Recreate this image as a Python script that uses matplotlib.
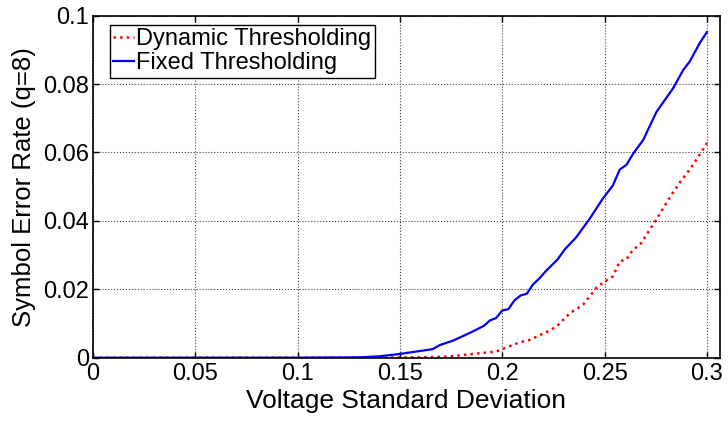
import matplotlib
matplotlib.use('Agg')
import matplotlib.pyplot as plt
from matplotlib.ticker import FuncFormatter

plt.rcParams['font.family'] = ['Liberation Sans', 'DejaVu Sans']

# values
fixed_x = [0, 0.10, 0.13, 0.140, 0.150, 0.166, 0.1695, 0.176, 0.184, 0.191, 0.194, 0.197,
           0.200, 0.203, 0.206, 0.209, 0.212, 0.215, 0.218, 0.2216, 0.227, 0.2306,
           0.236, 0.2428, 0.249, 0.254, 0.2574, 0.2607, 0.264, 0.2688, 0.2754,
           0.2835, 0.2884, 0.2916, 0.2965, 0.300]
fixed_y = [0, 0, 0.0001, 0.0004, 0.0011, 0.0025, 0.0037, 0.0050, 0.0072, 0.0093, 0.0109, 0.0116,
           0.0138, 0.0142, 0.0168, 0.0182, 0.0187, 0.0214, 0.0231, 0.0255, 0.0287, 0.0317,
           0.0351, 0.0407, 0.0464, 0.0503, 0.0550, 0.0564, 0.0597, 0.0636, 0.0719,
           0.0788, 0.0841, 0.0866, 0.0920, 0.0952]

dyn_x = [0, 0.14, 0.160, 0.1728, 0.189, 0.197, 0.2004, 0.2086, 0.2135, 0.2216, 0.2265, 0.233,
         0.2395, 0.246, 0.2492, 0.2541, 0.2574, 0.2607, 0.264, 0.2672, 0.2754,
         0.2819, 0.2868, 0.2916, 0.2973, 0.300]
dyn_y = [0, 0, 0.0001, 0.0003, 0.0013, 0.0018, 0.0026, 0.0045, 0.0052, 0.0075, 0.0091, 0.0130,
         0.0155, 0.0204, 0.0219, 0.0238, 0.0282, 0.0287, 0.0317, 0.0329, 0.0405,
         0.0469, 0.0513, 0.0550, 0.0601, 0.0628]

xticks = [0, 0.05, 0.1, 0.15, 0.2, 0.25, 0.3]
yticks = [0, 0.02, 0.04, 0.06, 0.08, 0.1]

fig = plt.figure(figsize=(7.28, 4.22), dpi=100)
ax = fig.add_axes([0.1277, 0.1524, 0.8613, 0.8104])

ax.plot(dyn_x, dyn_y, color='red', linestyle=':', linewidth=1.8, label='Dynamic Thresholding')
ax.plot(fixed_x, fixed_y, color='blue', linestyle='-', linewidth=1.6, label='Fixed Thresholding')

ax.set_xlim(0, 0.3064)
ax.set_ylim(0, 0.1)
ax.set_xticks(xticks)
ax.set_yticks(yticks)
fmt = FuncFormatter(lambda v, p: '%g' % round(v, 4))
ax.xaxis.set_major_formatter(fmt)
ax.yaxis.set_major_formatter(fmt)
ax.tick_params(direction='in', top=True, right=True, labelsize=17, length=4, width=1)
ax.tick_params(axis='x', pad=4)
ax.tick_params(axis='y', pad=3)
ax.grid(True, color='#444444', linestyle=':', linewidth=0.8)
for s in ax.spines.values():
    s.set_linewidth(1.2)

ax.set_xlabel('Voltage Standard Deviation', fontsize=19, labelpad=3)
ax.set_ylabel('Symbol Error Rate (q=8)', fontsize=18.5, labelpad=5)

leg = ax.legend(loc='upper left', bbox_to_anchor=(0.027, 0.974), fontsize=17,
                handlelength=0.85, handletextpad=0.1, borderpad=0.15, labelspacing=0.1,
                fancybox=False, framealpha=1, borderaxespad=0)
leg.get_frame().set_edgecolor('black')
leg.get_frame().set_linewidth(1.0)

fig.savefig('out.png', dpi=100)
